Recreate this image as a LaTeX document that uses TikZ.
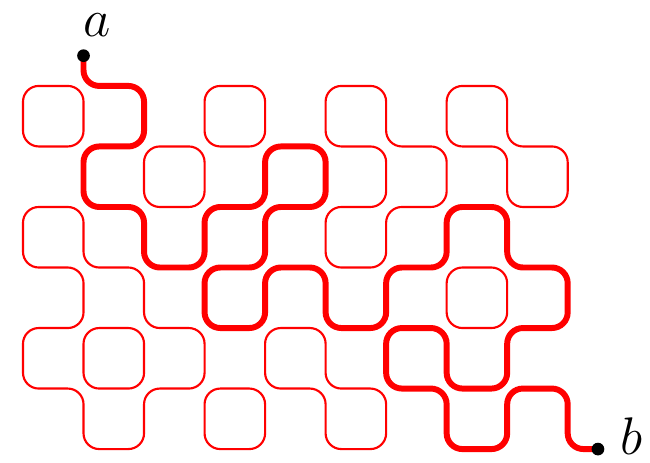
\documentclass[tikz,border=0pt]{standalone}
\usepackage{tikz}
\usetikzlibrary{positioning}

\begin{document}
\begin{tikzpicture}[
    loop/.style={draw=red, line width=1pt, rounded corners=0.26cm},
    mainpath/.style={draw=red, line width=2.8pt, rounded corners=0.26cm},
    endpt/.style={circle, fill=black, inner sep=0pt, minimum size=0.21cm},
    endlabel/.style={inner sep=0pt, font=\fontsize{29}{34}\selectfont}
  ]
  \useasboundingbox (-0.38,-6.23) rectangle (10.36,1.42);

  %% End points
  \coordinate (a) at (1,0.5);
  \coordinate (b) at (9.5,-6);

  %% Small square loops
  \draw[loop] (0,0) rectangle (1,-1);
  \draw[loop] (3,0) rectangle (4,-1);
  \draw[loop] (2,-1) rectangle (3,-2);
  \draw[loop] (1,-4) rectangle (2,-5);
  \draw[loop] (3,-5) rectangle (4,-6);
  \draw[loop] (7,-3) rectangle (8,-4);

  %% Larger loops
  \draw[loop] (0,-2) -- (1,-2) -- (1,-3) -- (2,-3) -- (2,-4) -- (3,-4) -- (3,-5) -- (2,-5)
    -- (2,-6) -- (1,-6) -- (1,-5) -- (0,-5) -- (0,-4) -- (1,-4) -- (1,-3) -- (0,-3) -- cycle;
  \draw[loop] (5,0) -- (6,0) -- (6,-1) -- (7,-1) -- (7,-2) -- (6,-2) -- (6,-3) -- (5,-3)
    -- (5,-2) -- (6,-2) -- (6,-1) -- (5,-1) -- cycle;
  \draw[loop] (7,0) -- (8,0) -- (8,-1) -- (9,-1) -- (9,-2) -- (8,-2) -- (8,-1) -- (7,-1) -- cycle;
  \draw[loop] (4,-4) -- (5,-4) -- (5,-5) -- (6,-5) -- (6,-6) -- (5,-6) -- (5,-5) -- (4,-5) -- cycle;

  %% Path from a to b
  \draw[mainpath] (a) -- (1,0) -- (2,0) -- (2,-1) -- (1,-1) -- (1,-2) -- (2,-2) -- (2,-3)
    -- (3,-3) -- (3,-2) -- (4,-2) -- (4,-1) -- (5,-1) -- (5,-2) -- (4,-2) -- (4,-3)
    -- (3,-3) -- (3,-4) -- (4,-4) -- (4,-3) -- (5,-3) -- (5,-4) -- (6,-4) -- (6,-3)
    -- (7,-3) -- (7,-2) -- (8,-2) -- (8,-3) -- (9,-3) -- (9,-4) -- (8,-4) -- (8,-5)
    -- (7,-5) -- (7,-4) -- (6,-4) -- (6,-5) -- (7,-5) -- (7,-6) -- (8,-6) -- (8,-5)
    -- (9,-5) -- (9,-6) -- (b);

  \node[endpt] (adot) at (a) {};
  \node[endpt] (bdot) at (b) {};
  \node[endlabel] (alabel) at (1.22,1.0) {$a$};
  \node[endlabel] (blabel) at (10.05,-5.78) {$b$};

\end{tikzpicture}
\end{document}
